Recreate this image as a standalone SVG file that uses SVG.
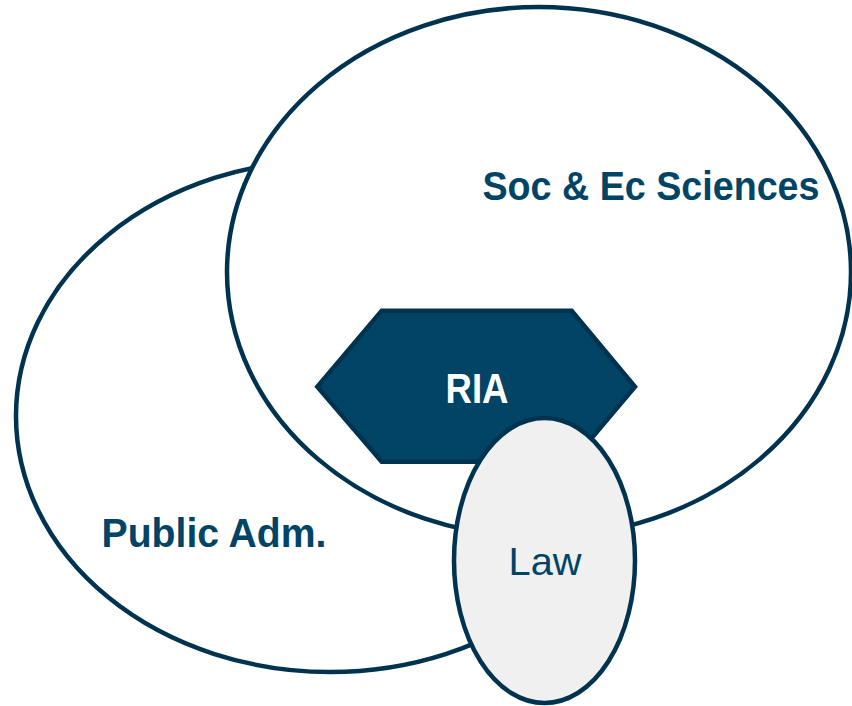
<svg xmlns="http://www.w3.org/2000/svg" width="852" height="706" viewBox="0 0 852 706">
<style>
.set{fill:#ffffff;stroke:#00334f;stroke-width:4.5}
.lbl{font-family:"Liberation Sans",Arial,sans-serif;fill:#024466}
.b{font-weight:bold}
</style>
<rect width="852" height="706" fill="#ffffff"/>
<g id="public-adm">
<ellipse class="set" cx="330" cy="416" rx="314" ry="256"/>
</g>
<g id="soc-ec-sciences">
<ellipse class="set" cx="539" cy="272" rx="312" ry="265"/>
<text class="lbl b" x="482.5" y="200" font-size="40" textLength="337" lengthAdjust="spacingAndGlyphs">Soc &amp; Ec Sciences</text>
</g>
<g id="public-adm-label">
<text class="lbl b" x="101.5" y="547" font-size="40" textLength="225" lengthAdjust="spacingAndGlyphs">Public Adm.</text>
</g>
<g id="ria">
<polygon points="381.7,310.7 571.7,310.7 635,386.7 571.7,461.7 381.7,461.7 317.3,386.7" fill="#024466" stroke="#00334f" stroke-width="4.5" stroke-linejoin="miter"/>
<text x="477" y="403" font-family="'Liberation Sans',Arial,sans-serif" font-weight="bold" font-size="43" fill="#ffffff" text-anchor="middle" textLength="63" lengthAdjust="spacingAndGlyphs">RIA</text>
</g>
<g id="law">
<ellipse cx="544.5" cy="560.5" rx="90.5" ry="142.5" fill="#f0f0f0" stroke="#00334f" stroke-width="4.5"/>
<text class="lbl" x="545" y="575" font-size="39" text-anchor="middle" textLength="73" lengthAdjust="spacingAndGlyphs">Law</text>
</g>
<g id="connectors"></g>
</svg>
